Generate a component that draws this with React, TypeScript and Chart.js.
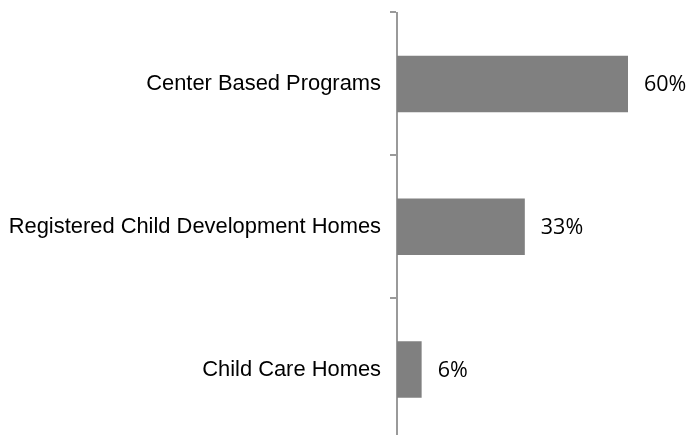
import React, { useEffect, useRef } from "react";
import { Chart, registerables } from "chart.js";

Chart.register(...registerables);

const categories = [
  "Center Based Programs",
  "Registered Child Development Homes",
  "Child Care Homes",
];
const values = [60, 33.2, 6.4];
const valueLabels = ["60%", "33%", "6%"];

const valueLabelPlugin = {
  id: "valueLabels",
  afterDatasetsDraw(chart: any) {
    const ctx = chart.ctx;
    const meta = chart.getDatasetMeta(0);
    ctx.save();
    ctx.font = "21.5px 'Open Sans', sans-serif";
    ctx.fillStyle = "#000000";
    ctx.textAlign = "left";
    ctx.textBaseline = "middle";
    meta.data.forEach((bar: any, i: number) => {
      ctx.fillText(valueLabels[i], bar.x + 16, bar.y + 1);
    });
    ctx.restore();
  },
};

export default function App() {
  const ref = useRef<HTMLCanvasElement | null>(null);
  useEffect(() => {
    if (!ref.current) return;
    const chart = new Chart(ref.current, {
      type: "bar",
      data: {
        labels: categories,
        datasets: [
          {
            data: values,
            backgroundColor: "#808080",
            borderWidth: 0,
            categoryPercentage: 1,
            barPercentage: 0.395,
          },
        ],
      },
      options: {
        indexAxis: "y",
        responsive: false,
        animation: false,
        layout: { padding: { top: 12.5, right: 24.5, left: 0, bottom: 0 } },
        plugins: {
          legend: { display: false },
          tooltip: { enabled: false },
        },
        scales: {
          x: { display: false, min: 0, max: 70 },
          y: {
            offset: true,
            afterFit: (s: any) => {
              s.width = 397;
              s.paddingTop = 0;
              s.paddingBottom = 0;
            },
            grid: {
              display: true,
              offset: true,
              drawOnChartArea: false,
              drawTicks: true,
              tickLength: 7,
              color: "#9a9a9a",
              lineWidth: 2,
            },
            border: { display: true, color: "#9a9a9a", width: 2 },
            ticks: {
              padding: 9,
              color: "#000000",
              font: { family: "'Liberation Sans', Arial, sans-serif", size: 21.9 },
            },
          },
        },
      },
      plugins: [valueLabelPlugin],
    });
    return () => chart.destroy();
  }, []);
  return (
    <div style={{ position: "fixed", left: 0, top: 0, width: 691, height: 441 }}>
      <canvas ref={ref} width={691} height={441} style={{ display: "block" }} />
    </div>
  );
}
